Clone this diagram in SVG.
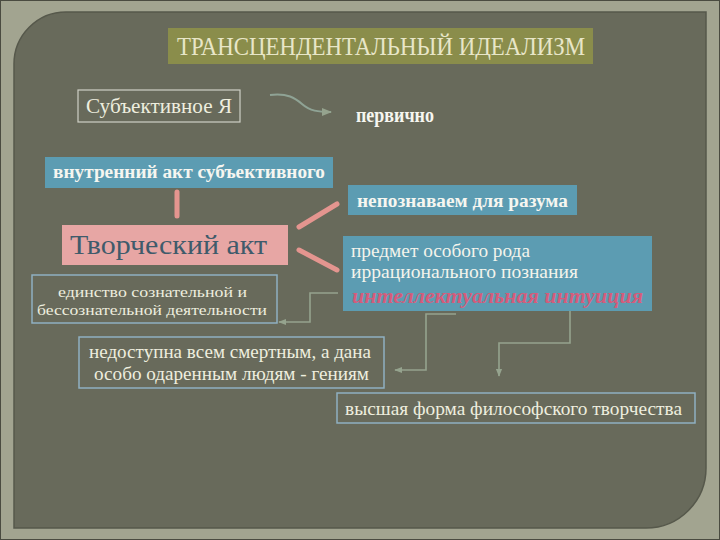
<svg xmlns="http://www.w3.org/2000/svg" width="720" height="540" viewBox="0 0 720 540">
<defs>
<style>
.serif{font-family:"Liberation Serif","DejaVu Serif",serif}
.lt{fill:#eeeedf}
.wb{fill:#f6f6f0;font-weight:bold}
.blue{fill:#5c9cb2}
.outline{fill:none;stroke:#8fb0c2;stroke-width:1.5}
.elbow{fill:none;stroke:#95a38e;stroke-width:1.6}
.pink{stroke:#e4958f;stroke-width:5;stroke-linecap:round}
</style>
<marker id="ah" viewBox="0 0 10 10" refX="9" refY="5" markerWidth="5" markerHeight="5" orient="auto">
<path d="M0,1 L10,5 L0,9 Z" fill="#95a38e"/>
</marker>
</defs>
<rect x="0" y="0" width="720" height="540" fill="#a2a490"/>
<rect x="0.5" y="0.5" width="719" height="539" fill="none" stroke="#4a4b40" stroke-width="1"/>
<path d="M14,64 A52,52 0 0 1 66,12 H706 V468 A60,60 0 0 1 646,528 H14 Z" fill="#686a5b" stroke="#56584b" stroke-width="1.5"/>

<g id="connectors">
<path d="M270,95 C288,93 295,98 302,104 C310,111 318,112 331,112" fill="none" stroke="#8fa395" stroke-width="2" marker-end="url(#ah)"/>
<line class="pink" x1="177" y1="216" x2="177" y2="192"/>
<line class="pink" x1="299" y1="227" x2="337" y2="204"/>
<line class="pink" x1="299" y1="250" x2="337" y2="270"/>
<path class="elbow" d="M338,293 H310 V322 H279" marker-end="url(#ah)"/>
<path class="elbow" d="M456,314 H426 V370 H395" marker-end="url(#ah)"/>
<path class="elbow" d="M570,311 V343 H499 V376" marker-end="url(#ah)"/>
</g>

<g id="title">
<rect x="168" y="28" width="425" height="36" fill="#8a8d4b"/>
<text class="serif" x="177" y="55" font-size="25" fill="#e8e6c8" textLength="408" lengthAdjust="spacingAndGlyphs">ТРАНСЦЕНДЕНТАЛЬНЫЙ ИДЕАЛИЗМ</text>
</g>

<g id="subject">
<rect x="78" y="90" width="162" height="32" fill="none" stroke="#cfd0c6" stroke-width="1.2"/>
<text class="serif lt" x="86" y="113" font-size="20" textLength="146" lengthAdjust="spacingAndGlyphs">Субъективное Я</text>
</g>

<g id="primary">
<text class="serif wb" x="356" y="122" font-size="20" textLength="78" lengthAdjust="spacingAndGlyphs">первично</text>
</g>

<g id="inner-act">
<rect class="blue" x="45" y="157" width="288" height="31"/>
<text class="serif wb" x="53" y="178" font-size="18" textLength="272" lengthAdjust="spacingAndGlyphs">внутренний акт субъективного</text>
</g>

<g id="creative-act">
<rect x="62" y="225" width="226" height="40" fill="#e7a6a4"/>
<text class="serif" x="70" y="254" font-size="27" fill="#3f5b6b" textLength="197" lengthAdjust="spacingAndGlyphs">Творческий акт</text>
</g>

<g id="unity">
<rect class="outline" x="32" y="275" width="245" height="48"/>
<text class="serif lt" x="58" y="297" font-size="15" textLength="189" lengthAdjust="spacingAndGlyphs">единство сознательной и</text>
<text class="serif lt" x="37" y="315" font-size="15" textLength="230" lengthAdjust="spacingAndGlyphs">бессознательной деятельности</text>
</g>

<g id="unknowable">
<rect class="blue" x="348" y="185" width="229" height="30"/>
<text class="serif wb" x="357" y="207" font-size="18" textLength="211" lengthAdjust="spacingAndGlyphs">непознаваем для разума</text>
</g>

<g id="subject-matter">
<rect class="blue" x="343" y="236" width="309" height="75"/>
<text class="serif" x="351" y="257" font-size="18" fill="#f4f4ec" textLength="179" lengthAdjust="spacingAndGlyphs">предмет особого рода</text>
<text class="serif" x="351" y="278" font-size="18" fill="#f4f4ec" textLength="227" lengthAdjust="spacingAndGlyphs">иррационального познания</text>
<text class="serif" x="352" y="303" font-size="20" font-weight="bold" font-style="italic" fill="#d45c7b" textLength="291" lengthAdjust="spacingAndGlyphs">интеллектуальная интуиция</text>
</g>

<g id="inaccessible">
<rect class="outline" x="79" y="337" width="305" height="51"/>
<text class="serif lt" x="89" y="358" font-size="18" textLength="282" lengthAdjust="spacingAndGlyphs">недоступна всем смертным, а дана</text>
<text class="serif lt" x="94" y="380" font-size="18" textLength="275" lengthAdjust="spacingAndGlyphs">особо одаренным людям - гениям</text>
</g>

<g id="highest-form">
<rect class="outline" x="337" y="393" width="358" height="30"/>
<text class="serif lt" x="345" y="415" font-size="18" textLength="337" lengthAdjust="spacingAndGlyphs">высшая форма философского творчества</text>
</g>
</svg>
